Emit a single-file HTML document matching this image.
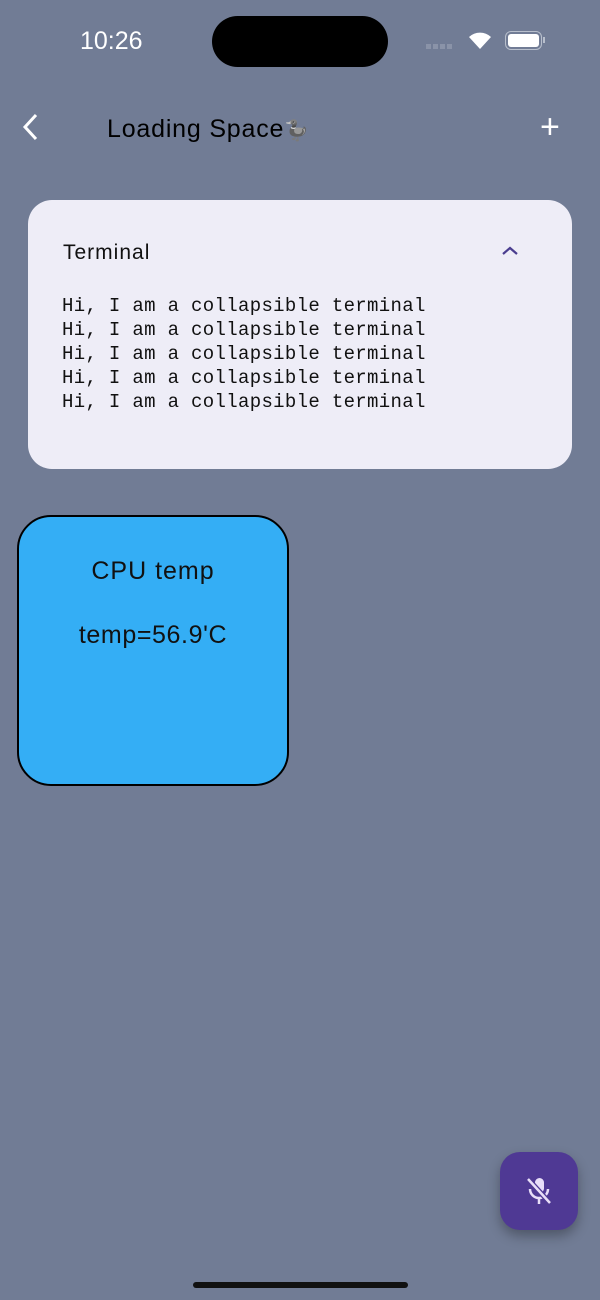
<!DOCTYPE html>
<html><head><meta charset="utf-8"><style>
body{margin:0;width:600px;height:1300px;background:#717c95;position:relative;overflow:hidden;font-family:"Liberation Sans",sans-serif}
.a{position:absolute}
</style></head><body>
<div class="a" style="left:80px;top:27px;font-size:25px;color:#fff;letter-spacing:0px">10:26</div>
<div class="a" style="left:212px;top:16px;width:176px;height:51px;background:#000;border-radius:26px"></div>
<div class="a" style="left:426px;top:44px;width:28px;height:5px;background:repeating-linear-gradient(90deg,#8a93a8 0 5px,transparent 5px 7px)"></div>
<svg class="a" style="left:466px;top:28px" width="28" height="24" viewBox="0 0 28 24"><path d="M14 21 L3 9 A16 16 0 0 1 25 9 Z" fill="#fff"/></svg>
<div class="a" style="left:505px;top:31px;width:37px;height:19px;border:1.5px solid #b8bfcc;border-radius:6px;box-sizing:border-box"></div>
<div class="a" style="left:508px;top:34px;width:31px;height:13px;background:#fff;border-radius:3px"></div>
<div class="a" style="left:543px;top:37px;width:2px;height:6px;background:#b8bfcc"></div>
<svg class="a" style="left:18px;top:112px" width="24" height="30"><path d="M18 3 L7 15 L18 27" stroke="#fff" stroke-width="3" fill="none"/></svg>
<div class="a" style="left:107px;top:115px;font-size:25px;color:#000;letter-spacing:0.8px">Loading Space<span style="font-size:20px;filter:grayscale(1)">🦆</span></div>
<div class="a" style="left:540px;top:108px;font-size:34px;color:#fff">+</div>
<div class="a" style="left:28px;top:200px;width:544px;height:269px;background:#eeedf7;border-radius:24px"></div>
<div class="a" style="left:63px;top:241px;font-size:21px;color:#111;letter-spacing:1px">Terminal</div>
<svg class="a" style="left:500px;top:244px" width="20" height="14"><path d="M3 10 L10 4 L17 10" stroke="#4a3d8f" stroke-width="2.2" fill="none"/></svg>
<div class="a" style="left:62px;top:294px;font-family:'Liberation Mono',monospace;font-size:19px;line-height:24px;color:#111;white-space:pre;letter-spacing:0.33px">Hi, I am a collapsible terminal
Hi, I am a collapsible terminal
Hi, I am a collapsible terminal
Hi, I am a collapsible terminal
Hi, I am a collapsible terminal</div>
<div class="a" style="left:17px;top:515px;width:272px;height:271px;box-sizing:border-box;background:#34aef5;border:2.5px solid #000;border-radius:34px"></div>
<div class="a" style="left:17px;top:557px;width:272px;text-align:center;font-size:25px;color:#111;letter-spacing:1px">CPU temp</div>
<div class="a" style="left:17px;top:621px;width:272px;text-align:center;font-size:25px;color:#111;letter-spacing:0.6px">temp=56.9'C</div>
<div class="a" style="left:500px;top:1152px;width:78px;height:78px;background:#4f3994;border-radius:20px;box-shadow:0 6px 12px rgba(0,0,0,0.3)"></div>
<svg class="a" style="left:524px;top:1176px" width="30" height="30" viewBox="0 0 30 30"><rect x="11" y="2" width="9" height="15" rx="4.5" fill="#e8def8"/><path d="M6 13 A9 9 0 0 0 24 13 M15 22 V28" stroke="#e8def8" stroke-width="2.5" fill="none"/><path d="M4 3 L26 27" stroke="#4f3994" stroke-width="5"/><path d="M4 3 L26 27" stroke="#e8def8" stroke-width="2.5"/></svg>
<div class="a" style="left:193px;top:1282px;width:215px;height:6px;background:#111;border-radius:3px"></div>
</body></html>
